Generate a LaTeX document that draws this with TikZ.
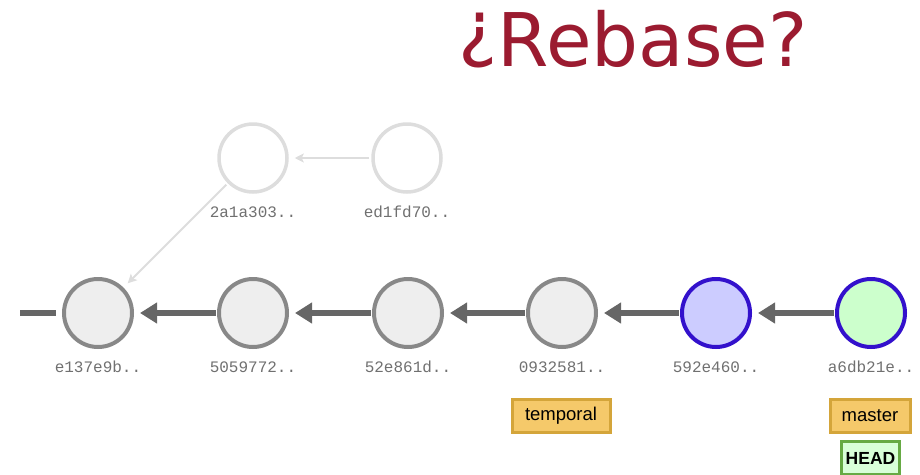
\documentclass[tikz,border=0pt]{standalone}
\usepackage{fontspec}
\usetikzlibrary{arrows.meta}
\newfontfamily\titlefont{DejaVu Sans}
\newfontfamily\labfont{Liberation Mono}
\newfontfamily\brfont{Liberation Sans}
\definecolor{titlered}{HTML}{9B1B30}
\definecolor{cgray}{HTML}{888888}
\definecolor{cfill}{HTML}{EEEEEE}
\definecolor{ghost}{HTML}{DDDDDD}
\definecolor{agray}{HTML}{666666}
\definecolor{lblgray}{HTML}{707070}
\definecolor{blueline}{HTML}{3311CC}
\definecolor{bluefill}{HTML}{CCCCFF}
\definecolor{greenfill}{HTML}{CCFFCC}
\definecolor{brfill}{HTML}{F5C96A}
\definecolor{brline}{HTML}{D4A53A}
\definecolor{headline}{HTML}{66AA44}
\definecolor{headfill}{HTML}{D8FFD8}
\tikzset{
  commit/.style={circle, minimum size=68pt, inner sep=0pt, line width=4pt, draw=cgray, fill=cfill},
  ghostc/.style={circle, minimum size=68pt, inner sep=0pt, line width=3.5pt, draw=ghost, fill=white},
  newc/.style={commit, draw=blueline, fill=bluefill},
  headc/.style={commit, draw=blueline, fill=greenfill},
  hash/.style={font=\labfont\fontsize{16}{16}\selectfont, text=lblgray, inner sep=0pt},
  parent/.style={line width=6pt, draw=agray, -{Triangle[length=17pt,width=20pt]}, shorten >=6pt, shorten <=1pt},
  gparent/.style={line width=2pt, draw=ghost, -{Stealth[length=9pt,width=9pt,inset=2pt]}, shorten >=6pt, shorten <=2pt},
  branch/.style={draw=brline, fill=brfill, line width=3pt, font=\brfont\fontsize{18.5}{18.5}\selectfont, text=black, minimum height=33pt, inner sep=0pt},
  headbox/.style={draw=headline, fill=headfill, line width=3pt, font=\brfont\bfseries\fontsize{17.5}{17.5}\selectfont, text=black, minimum height=33pt, inner sep=0pt},
}
\begin{document}
\begin{tikzpicture}[x=1pt, y=-1pt]
\useasboundingbox (0,0) rectangle (920,474);
\node[font=\titlefont\fontsize{74}{74}\selectfont, text=titlered, anchor=base, inner sep=0pt] (title) at (633,66) {\raisebox{13pt}{¿}Rebase?};
% ghost commits
\node[ghostc] (g1) at (253,158) {};
\node[ghostc] (g2) at (407,158) {};
\node[hash] (g1l) at (253,212) {2a1a303..};
\node[hash] (g2l) at (407,212) {ed1fd70..};
% main commits
\node[commit] (c1) at (98,313) {};
\node[commit] (c2) at (253,313) {};
\node[commit] (c3) at (408,313) {};
\node[commit] (c4) at (562,313) {};
\node[newc] (c5) at (716,313) {};
\node[headc] (c6) at (871,313) {};
\node[hash] (l1) at (98,367) {e137e9b..};
\node[hash] (l2) at (253,367) {5059772..};
\node[hash] (l3) at (408,367) {52e861d..};
\node[hash] (l4) at (562,367) {0932581..};
\node[hash] (l5) at (716,367) {592e460..};
\node[hash] (l6) at (871,367) {a6db21e..};
% edges
\coordinate (stub) at (20,313);
\draw[line width=6pt, draw=agray] (stub) -- ([xshift=-6pt]c1.west);
\draw[parent] (c2) -- (c1);
\draw[parent] (c3) -- (c2);
\draw[parent] (c4) -- (c3);
\draw[parent] (c5) -- (c4);
\draw[parent] (c6) -- (c5);
\draw[gparent] (g2) -- (g1);
\draw[gparent] (g1) -- (c1);
% branches
\node[branch, minimum width=98pt] (temporal) at (561,416) {temporal};
\node[branch, minimum width=80pt] (master) at (870,416) {master};
\node[headbox, minimum width=58pt] (head) at (870.5,458) {HEAD};
\end{tikzpicture}
\end{document}
